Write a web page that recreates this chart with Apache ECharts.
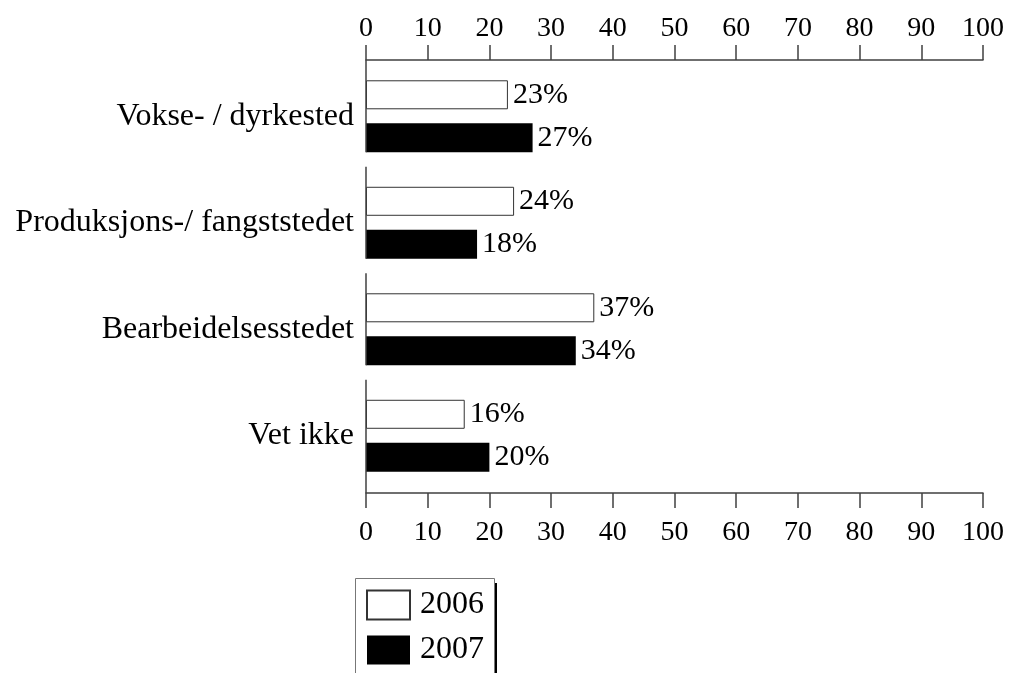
<!DOCTYPE html>
<html>
<head>
<meta charset="utf-8">
<script src="https://cdn.jsdelivr.net/npm/echarts@6/dist/echarts.min.js"></script>
<style>
  html, body { margin: 0; padding: 0; background: #fff; }
  #chart { width: 1009px; height: 673px; }
</style>
</head>
<body>
<div id="chart"></div>
<script>
var categories = ['Vokse- / dyrkested', 'Produksjons-/ fangststedet', 'Bearbeidelsesstedet', 'Vet ikke'];
var values2006 = [23, 24, 37, 16];
var values2007 = [27, 18, 34, 20];
var seriesNames = ['2006', '2007'];

var font = 'Liberation Serif';
var lineColor = '#404040';

var myChart = echarts.init(document.getElementById('chart'));

function xAxisDef(pos, offset, margin) {
	return {
		type: 'value',
		position: pos,
		offset: offset,
		min: 0,
		max: 100,
		interval: 10,
		axisLine: { show: true, lineStyle: { color: lineColor, width: 1.5 } },
		axisTick: { show: true, length: 15, lineStyle: { color: lineColor, width: 1.5 } },
		axisLabel: { color: '#000', fontFamily: font, fontSize: 28, margin: margin },
		splitLine: { show: false }
	};
}

var barLabel = {
	show: true,
	position: 'right',
	distance: 5,
	formatter: '{c}%',
	color: '#000',
	fontFamily: font,
	fontSize: 30
};

var option = {
	animation: false,
	backgroundColor: '#fff',
	grid: { left: 366, right: 26, top: 63, bottom: 184, containLabel: false },
	xAxis: [xAxisDef('top', 3, 17), xAxisDef('bottom', 4, 26)],
	yAxis: {
		type: 'category',
		inverse: true,
		data: categories,
		axisLine: { show: false },
		axisTick: { show: false },
		axisLabel: { color: '#000', fontFamily: font, fontSize: 32, margin: 12, padding: [5, 0, 0, 0] }
	},
	legend: {
		orient: 'vertical',
		left: 366,
		top: 589,
		width: 120,
		padding: 0,
		itemWidth: 43,
		itemHeight: 29,
		itemGap: 13,
		icon: 'rect',
		textStyle: { color: '#000', fontFamily: font, fontSize: 32, padding: [0, 0, 0, 5] },
		data: seriesNames
	},
	series: [
		{
			name: seriesNames[0],
			type: 'bar',
			xAxisIndex: 0,
			data: values2006,
			barWidth: 29,
			barGap: '48%',
			itemStyle: { color: '#fff', borderColor: '#333', borderWidth: 1 },
			label: barLabel
		},
		{
			name: seriesNames[1],
			type: 'bar',
			xAxisIndex: 0,
			data: values2007,
			barWidth: 29,
			barGap: '48%',
			itemStyle: { color: '#000' },
			label: barLabel
		}
	]
};
myChart.setOption(option);

// category axis line drawn in pieces, one per band
var x0 = myChart.convertToPixel({ xAxisIndex: 0 }, 0);
var bottomY = myChart.getHeight() - 184 + 4;
var shapes = [];
for (var i = 0; i < categories.length; i++) {
	var cy = myChart.convertToPixel({ yAxisIndex: 0 }, i);
	var y1 = (i === 0) ? 60 : cy - 56;
	var y2 = (i === categories.length - 1) ? bottomY : cy + 36;
	shapes.push({
		type: 'line',
		shape: { x1: x0, y1: y1, x2: x0, y2: y2 },
		style: { stroke: lineColor, lineWidth: 1.5 },
		z: 10
	});
}
// legend frame with drop shadow
shapes.push({
	type: 'rect',
	shape: { x: 358, y: 583, width: 139, height: 200 },
	style: { fill: '#000' },
	z: 1
});
shapes.push({
	type: 'rect',
	shape: { x: 355.5, y: 578.5, width: 139, height: 200 },
	style: { fill: '#fff', stroke: '#777', lineWidth: 1 },
	z: 2
});
myChart.setOption({ graphic: shapes });
</script>
</body>
</html>
